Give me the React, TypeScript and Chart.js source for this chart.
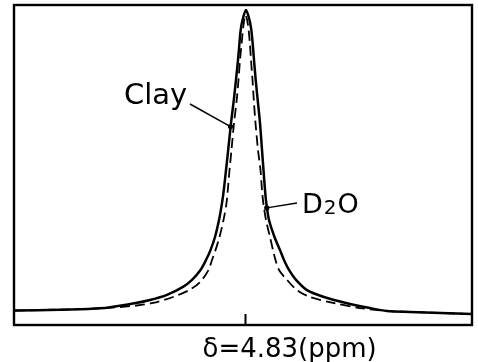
import React, { useEffect, useRef } from "react";
import { Chart, registerables } from "chart.js";

Chart.register(...registerables);

// Chemical shift (ppm) and relative intensity (%) — Clay (solid)
const clayShift = [5.291, 5.201, 5.121, 5.055, 5.021, 4.987, 4.955, 4.937, 4.920, 4.909, 4.900, 4.891, 4.883, 4.877, 4.8734, 4.869, 4.8646, 4.859, 4.8534, 4.849, 4.845, 4.8424, 4.8396, 4.836, 4.829, 4.822, 4.8184, 4.8154, 4.813, 4.8096, 4.8056, 4.801, 4.797, 4.794, 4.791, 4.7884, 4.783, 4.772, 4.761, 4.753, 4.743, 4.729, 4.707, 4.673, 4.629, 4.581, 4.547, 4.501, 4.377];
const clayIntensity = [4.5, 4.8, 5.2, 6.7, 7.8, 9.4, 11.9, 14.1, 17.2, 20.3, 23.4, 27.5, 32.8, 38.1, 42.2, 48.4, 54.7, 63.1, 70.3, 76.6, 82.8, 87.5, 92.2, 95.3, 98.4, 95.3, 92.2, 87.5, 82.8, 76.6, 70.3, 63.1, 54.7, 48.4, 42.2, 38.1, 32.8, 27.5, 23.4, 20.3, 17.2, 14.1, 10.9, 8.75, 6.9, 5.3, 4.4, 4.1, 3.4];

// D2O (dashed)
const d2oShift = [5.291, 5.201, 5.121, 5.047, 5.015, 4.975, 4.943, 4.921, 4.904, 4.897, 4.890, 4.882, 4.874, 4.868, 4.8654, 4.862, 4.858, 4.853, 4.8476, 4.844, 4.841, 4.838, 4.834, 4.830, 4.825, 4.821, 4.819, 4.816, 4.8134, 4.810, 4.805, 4.800, 4.797, 4.7944, 4.789, 4.781, 4.775, 4.770, 4.763, 4.747, 4.727, 4.701, 4.655, 4.601, 4.547, 4.501, 4.377];
const d2oIntensity = [4.5, 4.8, 5.2, 6.1, 6.9, 8.75, 10.9, 13.4, 17.2, 20.3, 23.4, 27.5, 32.8, 38.1, 42.2, 48.4, 54.7, 63.1, 70.3, 76.6, 82.8, 87.5, 93.75, 96.9, 93.75, 87.5, 82.8, 76.6, 70.3, 63.1, 54.7, 48.4, 42.2, 38.1, 32.8, 27.5, 23.4, 20.3, 17.2, 14.1, 10.9, 8.75, 6.9, 5.3, 4.4, 4.1, 3.4];

const peakShift = 4.83;
const axisLabel = "δ=4.83(ppm)";
const clayLabel = "Clay";
const d2oLabel = ["D", "2", "O"];
// points on the curves that the labels point to
const clayPointer = { x: 4.860, y: 62.0 };
const d2oPointer = { x: 4.7875, y: 36.6 };

const FONT = '"DejaVu Sans", sans-serif';

const decorPlugin = {
  id: "decor",
  afterDatasetsDraw(chart: any) {
    const { ctx, chartArea, scales } = chart;
    const xs = scales.x;
    const ys = scales.y;
    ctx.save();
    ctx.strokeStyle = "#000";
    ctx.fillStyle = "#000";
    // frame
    ctx.lineWidth = 2.4;
    ctx.strokeRect(chartArea.left, chartArea.top, chartArea.right - chartArea.left, chartArea.bottom - chartArea.top);
    // tick
    const tx = xs.getPixelForValue(peakShift);
    ctx.lineWidth = 2;
    ctx.beginPath();
    ctx.moveTo(tx, chartArea.bottom - 11);
    ctx.lineTo(tx, chartArea.bottom);
    ctx.stroke();
    // axis label
    ctx.font = `26px ${FONT}`;
    ctx.textAlign = "left";
    ctx.textBaseline = "alphabetic";
    ctx.fillText(axisLabel, tx - 43, chartArea.bottom + 32);

    // Clay label + pointer
    ctx.font = `29px ${FONT}`;
    ctx.fillText(clayLabel, 124, 104);
    const cx = xs.getPixelForValue(clayPointer.x);
    const cy = ys.getPixelForValue(clayPointer.y);
    ctx.lineWidth = 1.5;
    ctx.beginPath();
    ctx.moveTo(190, 104);
    ctx.lineTo(cx, cy);
    ctx.stroke();
    ctx.beginPath();
    ctx.arc(cx, cy, 2.6, 0, Math.PI * 2);
    ctx.fill();

    // D2O label + pointer
    ctx.font = `27px ${FONT}`;
    ctx.fillText(d2oLabel[0], 302, 213);
    const w = ctx.measureText(d2oLabel[0]).width;
    ctx.font = `20px ${FONT}`;
    ctx.fillText(d2oLabel[1], 302 + w + 1, 214);
    const w2 = ctx.measureText(d2oLabel[1]).width;
    ctx.font = `27px ${FONT}`;
    ctx.fillText(d2oLabel[2], 302 + w + w2 + 2, 213);
    const dx = xs.getPixelForValue(d2oPointer.x);
    const dy = ys.getPixelForValue(d2oPointer.y);
    ctx.lineWidth = 1.5;
    ctx.beginPath();
    ctx.moveTo(297, 203);
    ctx.lineTo(dx, dy);
    ctx.stroke();
    ctx.beginPath();
    ctx.arc(dx, dy, 2.6, 0, Math.PI * 2);
    ctx.fill();
    ctx.restore();
  },
};

export default function App() {
  const ref = useRef<HTMLCanvasElement | null>(null);
  useEffect(() => {
    if (!ref.current) return;
    const chart = new Chart(ref.current, {
      type: "scatter",
      data: {
        datasets: [
          {
            label: "Clay",
            data: clayShift.map((x, i) => ({ x, y: clayIntensity[i] })),
            showLine: true,
            borderColor: "#000",
            borderWidth: 2.5,
            pointRadius: 0,
            tension: 0.3,
          },
          {
            label: "D2O",
            data: d2oShift.map((x, i) => ({ x, y: d2oIntensity[i] })),
            showLine: true,
            borderColor: "#000",
            borderWidth: 1.8,
            borderDash: [10, 5],
            pointRadius: 0,
            tension: 0.3,
          },
        ],
      },
      options: {
        animation: false,
        responsive: false,
        layout: { padding: { left: 14, right: 6, top: 5, bottom: 37 } },
        plugins: { legend: { display: false }, tooltip: { enabled: false } },
        scales: {
          x: { type: "linear", reverse: true, min: 4.377, max: 5.293, display: false },
          y: { min: 0, max: 100, display: false },
        },
      },
      plugins: [decorPlugin],
    } as any);
    return () => chart.destroy();
  }, []);
  return (
    <div style={{ position: "absolute", left: 0, top: 0, width: 478, height: 362, background: "#fff" }}>
      <canvas ref={ref} width={478} height={362} style={{ display: "block" }} />
    </div>
  );
}
